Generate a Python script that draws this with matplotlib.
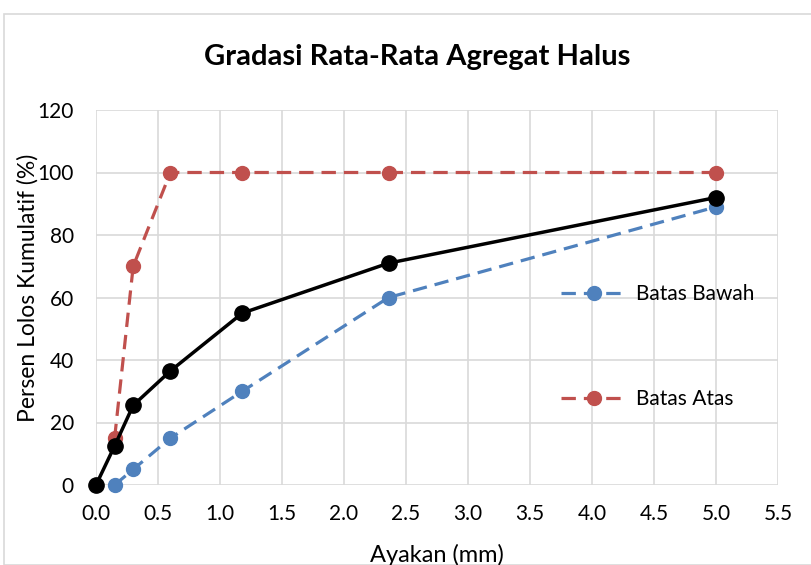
import numpy as np
import matplotlib.pyplot as plt
from matplotlib.patches import Rectangle

plt.rcParams['font.family'] = ['Lato', 'DejaVu Sans']

# sieve sizes (mm) and cumulative passing (%)
ayakan = [0, 0.15, 0.3, 0.6, 1.18, 2.36, 5.0]
gradasi = [0, 12.5, 25.5, 36.5, 55, 71, 92]

ayakan_batas = [0.15, 0.3, 0.6, 1.18, 2.36, 5.0]
batas_bawah = [0, 5, 15, 30, 60, 89]
batas_atas = [15, 70, 100, 100, 100, 100]

xticks = np.arange(0, 5.51, 0.5)
yticks = np.arange(0, 121, 20)

W, H = 811, 565
fig = plt.figure(figsize=(W / 100, H / 100), dpi=100)
ax = fig.add_axes([96 / W, 80 / H, 682 / W, 375 / H])

# chart border
fig.patches.append(Rectangle((4 / W, 0), 1.0, 551 / H, transform=fig.transFigure,
                             fill=False, edgecolor='#d9d9d9', lw=1.2))

dash = (0, (4.5, 2.5))
ax.plot(ayakan_batas, batas_bawah, color='#4f81bd', ls=dash, lw=2.3,
        marker='o', ms=10, label='Batas Bawah', zorder=3, clip_on=False)
ax.plot(ayakan_batas, batas_atas, color='#c0504d', ls=dash, lw=2.3,
        marker='o', ms=10, label='Batas Atas', zorder=3, clip_on=False)
ax.plot(ayakan, gradasi, color='black', lw=2.5, marker='o', ms=11, zorder=4, clip_on=False)

ax.set_xlim(0, 5.5)
ax.set_ylim(0, 120)
ax.set_xticks(xticks)
ax.set_xticklabels(['%.1f' % v for v in xticks])
ax.set_yticks(yticks)
ax.grid(True, color='#d9d9d9', lw=1.2)
ax.set_axisbelow(True)
for s in ax.spines.values():
    s.set_visible(False)
ax.tick_params(length=0, labelsize=15)
ax.tick_params(axis='x', pad=14)
ax.tick_params(axis='y', pad=16)

fig.text(437 / W, 1 - 555 / H, 'Ayakan (mm)', ha='center', va='center', fontsize=17)
fig.text(28 / W, 1 - 288 / H, 'Persen Lolos Kumulatif (%)', ha='center', va='center',
         rotation=90, fontsize=16.5)
fig.text(417 / W, 1 - 57 / H, 'Gradasi Rata-Rata Agregat Halus', ha='center', va='center',
         fontsize=21, fontweight='bold')

ax.legend(loc='center left', bbox_to_anchor=(446 / 682, 0.369), frameon=False, fontsize=15,
          labelspacing=4.1, handlelength=3.2, handletextpad=0.4)

fig.savefig('out.png', dpi=100)
